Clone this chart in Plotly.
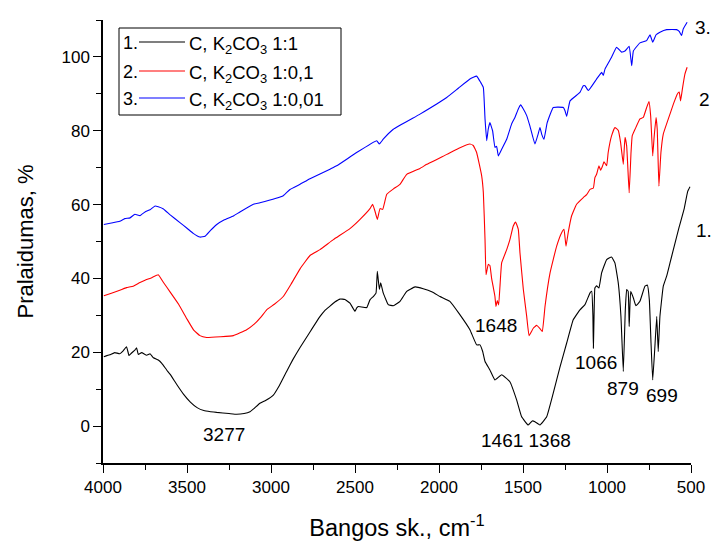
import plotly.graph_objects as go

# ---------------- data ----------------
wn1 = [3995, 3960, 3930, 3900, 3880, 3860, 3845, 3830, 3810, 3800, 3790, 3770, 3740, 3720, 3700, 3671,
       3650, 3621, 3600, 3560, 3520, 3480, 3440, 3400, 3360, 3323, 3250, 3204, 3160, 3125, 3100, 3066,
       3030, 2986, 2950, 2907, 2870, 2827, 2768, 2708, 2680,
       2649, 2620, 2589, 2560, 2530, 2500, 2490, 2480, 2430, 2411, 2391, 2375, 2367, 2355, 2347, 2332, 2302,
       2272, 2232, 2192, 2143, 2094, 2040, 1994, 1935, 1879, 1816, 1776, 1756, 1740, 1726, 1697, 1667,
       1627, 1578, 1538, 1508, 1469, 1445, 1429, 1410, 1399, 1359, 1320, 1280, 1240, 1201, 1161,
       1131, 1101, 1091, 1084, 1081, 1077, 1072, 1062, 1048, 1032, 1002, 973, 953, 933, 917, 903,
       891, 883, 874, 868, 859, 843, 828, 804, 774, 760, 748, 738, 728, 716, 704, 695, 685, 665,
       645, 625, 605, 570, 540, 520, 506]
tr1 = [18.8, 19.3, 19.9, 19.6, 20.4, 21.5, 19.1, 19.8, 20.6, 21.2, 19.4, 19.9, 19.2, 19.6, 18.5, 17.9,
       17.0, 15.2, 14.0, 11.2, 8.6, 6.5, 5.0, 4.2, 3.9, 3.7, 3.4, 3.2, 3.4, 3.9, 4.8, 6.2,
       7.0, 8.4, 11.0, 14.8, 18.0, 21.3, 25.5, 29.7, 31.3,
       32.5, 33.6, 34.4, 34.3, 33.3, 31.1, 32.0, 32.4, 32.1, 34.2, 35.1, 36.0, 41.9, 37.0, 38.8, 36.1, 32.9,
       32.6, 33.8, 36.5, 37.7, 37.2, 36.3, 35.1, 33.8, 30.4, 26.1, 22.0, 22.0, 20.2, 17.5, 15.2, 12.5,
       13.9, 12.0, 7.1, 2.5, 0.3, 1.4, 1.2, 0.6, 0.3, 2.5, 8.9, 16.0, 22.5, 28.8, 31.5,
       32.9, 36.1, 36.5, 30.0, 21.1, 30.0, 37.4, 38.0, 37.4, 41.5, 45.1, 45.8, 44.2, 38.8, 29.7, 14.8,
       31.5, 37.0, 36.5, 27.0, 36.5, 34.7, 32.6, 33.8, 37.9, 38.2, 34.2, 22.5, 12.5, 20.7, 29.7, 20.2, 29.7, 37.9,
       40.6, 44.2, 47.8, 54.0, 59.0, 63.5, 64.8]

wn2 = [3995, 3950, 3900, 3860, 3820, 3780, 3750, 3710, 3671, 3640, 3600, 3550, 3500, 3460, 3423, 3383,
       3300, 3224, 3145, 3100, 3060, 3026, 2980, 2927, 2880, 2827,
       2768, 2708, 2629, 2530, 2470, 2411, 2395, 2381, 2367, 2351, 2335, 2311, 2270, 2232, 2192, 2113,
       2073, 1954, 1885, 1816, 1796, 1776, 1746, 1736, 1726, 1720, 1707, 1697, 1687, 1667, 1661,
       1653, 1645, 1637, 1627, 1597, 1578, 1558, 1544, 1528, 1518, 1498, 1478, 1464, 1439, 1419,
       1399, 1385, 1369, 1339, 1300, 1270, 1256, 1244, 1231, 1211, 1181, 1141, 1121, 1101, 1081,
       1072, 1062, 1048, 1038, 1026, 1018, 1002, 993, 973, 953, 933, 919, 903, 893, 883, 868, 857,
       850, 833, 804, 784, 764, 750, 740, 728, 720, 708, 701, 691, 679, 665, 635, 605, 582, 570,
       562, 550, 536, 523]
tr2 = [35.3, 36.0, 36.8, 37.5, 37.9, 38.9, 39.5, 40.2, 41.0, 38.9, 36.3, 33.0, 29.0, 26.0, 24.5, 24.0,
       24.2, 24.5, 26.1, 27.6, 29.5, 31.5, 33.0, 35.1, 38.5, 42.6,
       46.2, 47.8, 50.5, 53.5, 56.0, 58.9, 60.1, 58.2, 56.0, 58.9, 58.7, 62.8, 64.3, 65.5, 68.2, 69.8,
       70.9, 73.6, 75.2, 76.4, 76.0, 74.1, 67.8, 63.2, 50.5, 41.0, 43.8, 43.5, 40.1, 35.1, 32.4,
       34.0, 32.8, 37.9, 44.2, 47.8, 50.5, 54.2, 55.3, 53.3, 46.9, 37.0, 29.7, 24.5, 26.5, 27.3,
       26.4, 25.6, 32.4, 41.5, 48.7, 52.4, 53.3, 48.7, 52.4, 56.9, 60.1, 61.9, 62.7, 64.1, 64.5,
       67.3, 68.2, 70.5, 69.3, 70.5, 71.6, 70.5, 74.1, 78.6, 80.9, 80.1, 76.8, 70.9, 78.2, 75.9, 63.2, 74.1,
       78.6, 80.4, 83.2, 83.6, 86.3, 87.9, 84.0, 73.2, 78.0, 83.6, 80.4, 65.0, 74.1, 79.1, 83.2, 87.2, 89.9, 90.5,
       88.1, 91.7, 95.4, 97.2]

wn3 = [3995, 3950, 3900, 3870, 3839, 3810, 3780, 3750, 3720, 3690, 3671, 3640, 3600, 3542, 3500, 3463,
       3423, 3393, 3360, 3323, 3280, 3224, 3185, 3105, 3066,
       2927, 2887, 2827, 2768, 2649, 2609, 2490, 2371, 2355, 2332, 2272, 2113, 1954, 1885, 1816,
       1776, 1752, 1736, 1726, 1716, 1707, 1697, 1681, 1667, 1657, 1647, 1627, 1597, 1568, 1548,
       1528, 1514, 1498, 1478, 1459, 1429, 1410, 1399, 1389, 1375, 1356, 1320, 1260, 1250, 1240,
       1220, 1161, 1141, 1131, 1111, 1062, 1032, 1022, 1012, 973, 943, 913, 893, 868, 853, 843,
       804, 764, 744, 728, 708, 685, 645, 586, 570, 556, 546, 523]
tr3 = [54.6, 55.0, 55.5, 56.2, 56.4, 57.4, 57.0, 58.0, 58.6, 59.6, 59.4, 58.8, 57.2, 55.1, 53.6, 52.2,
       51.2, 51.4, 53.0, 54.6, 55.8, 56.9, 58.0, 60.1, 60.5,
       62.4, 64.1, 65.5, 67.0, 69.6, 70.5, 74.1, 77.3, 76.4, 77.7, 80.4, 84.5, 89.0, 91.5, 94.0,
       94.8, 93.1, 91.7, 83.2, 77.3, 80.4, 82.2, 80.0, 75.5, 75.8, 73.2, 75.0, 77.7, 81.8, 83.6,
       85.9, 87.0, 85.9, 84.1, 81.3, 76.4, 79.1, 80.9, 79.1, 77.7, 82.2, 86.3, 86.3, 85.4, 83.9,
       88.1, 90.4, 92.2, 92.2, 90.9, 94.0, 95.8, 95.0, 96.7, 99.9, 102.6, 101.3, 101.6, 102.9, 97.6, 101.6,
       103.8, 104.4, 106.0, 104.0, 106.0, 106.7, 107.4, 107.4, 106.9, 105.8, 107.6, 109.4]

series_names = ["C, K<sub>2</sub>CO<sub>3</sub> 1:1",
                "C, K<sub>2</sub>CO<sub>3</sub> 1:0,1",
                "C, K<sub>2</sub>CO<sub>3</sub> 1:0,01"]
series_nums = ["1.", "2.", "3."]
series_colors = ["#000000", "#ff0000", "#0000ff"]

x_ticks = [4000, 3500, 3000, 2500, 2000, 1500, 1000, 500]
y_ticks = [0, 20, 40, 60, 80, 100]

peak_labels = ["3277", "1648", "1461 1368", "1066", "879", "699"]
peak_x = [3280, 1660, 1482, 1064, 907, 674]
peak_y = [-2.4, 27.2, -4.0, 17.2, 10.1, 8.4]

end_labels = ["1.", "2", "3."]

FONT = "Liberation Sans, Arial, sans-serif"

# plot area in pixels (for paper-coordinate helpers)
L, R, T, B = 103, 691, 20, 463
def px(x):
    return (x - L) / (R - L)
def py(y):
    return (B - y) / (B - T)

fig = go.Figure()
for wn, tr, c in zip([wn1, wn2, wn3], [tr1, tr2, tr3], series_colors):
    fig.add_trace(go.Scatter(x=wn, y=tr, mode="lines",
                             line=dict(color=c, width=1.1, shape="spline", smoothing=0.3),
                             showlegend=False, hoverinfo="skip"))

annotations = []
for t, x, y in zip(peak_labels, peak_x, peak_y):
    annotations.append(dict(x=x, y=y, xref="x", yref="y", text=t, showarrow=False,
                            font=dict(family=FONT, size=19, color="black"),
                            xanchor="center", yanchor="middle"))

# right-edge curve numbers
for t, (xp, yp) in zip(end_labels, [(694, 230), (697, 99), (693, 28)]):
    annotations.append(dict(x=px(xp), y=py(yp), xref="paper", yref="paper", text=t,
                            showarrow=False, xanchor="left", yanchor="middle",
                            font=dict(family=FONT, size=19, color="black")))

# custom legend
shapes = [dict(type="rect", xref="paper", yref="paper", x0=px(119), x1=px(341),
               y0=py(115), y1=py(28), line=dict(color="black", width=1),
               fillcolor="white", layer="above")]
row_y = [43, 72, 99]
for num, name, c, ry in zip(series_nums, series_names, series_colors, row_y):
    annotations.append(dict(x=px(121), y=py(ry), xref="paper", yref="paper", text=num,
                            showarrow=False, xanchor="left", yanchor="middle",
                            font=dict(family=FONT, size=18, color="black")))
    shapes.append(dict(type="line", xref="paper", yref="paper", x0=px(139), x1=px(185),
                       y0=py(ry - 1), y1=py(ry - 1), line=dict(color=c, width=1.1),
                       layer="above"))
    annotations.append(dict(x=px(187), y=py(ry + 2), xref="paper", yref="paper", text=name,
                            showarrow=False, xanchor="left", yanchor="middle",
                            font=dict(family=FONT, size=18.5, color="black")))

fig.update_layout(
    width=711, height=541,
    margin=dict(l=L, r=711 - R, t=T, b=541 - B),
    paper_bgcolor="white", plot_bgcolor="white",
    font=dict(family=FONT, size=17, color="black"),
    annotations=annotations, shapes=shapes,
    xaxis=dict(range=[4000, 500], tickvals=x_ticks, ticktext=[str(v) for v in x_ticks],
               automargin=False,
               showgrid=False, zeroline=False, showline=True, linecolor="black", linewidth=1.5,
               ticks="outside", ticklen=8, tickwidth=1.3, tickcolor="black",
               minor=dict(dtick=250, ticks="outside", ticklen=5, tickwidth=1.3, tickcolor="black"),
               tickfont=dict(family=FONT, size=17),
               title=dict(text="Bangos sk., cm<sup>-1</sup>", font=dict(family=FONT, size=23.5),
                          standoff=24)),
    yaxis=dict(range=[-10, 110], tickvals=y_ticks, showgrid=False, zeroline=False,
               automargin=False,
               showline=True, linecolor="black", linewidth=1.5,
               ticks="outside", ticklen=8, tickwidth=1.3, tickcolor="black",
               minor=dict(dtick=10, tick0=0, ticks="outside", ticklen=5, tickwidth=1.3, tickcolor="black"),
               tickfont=dict(family=FONT, size=17),
               title=dict(text="Pralaidumas, %", font=dict(family=FONT, size=22), standoff=22)),
)

fig.write_html("out.html")
